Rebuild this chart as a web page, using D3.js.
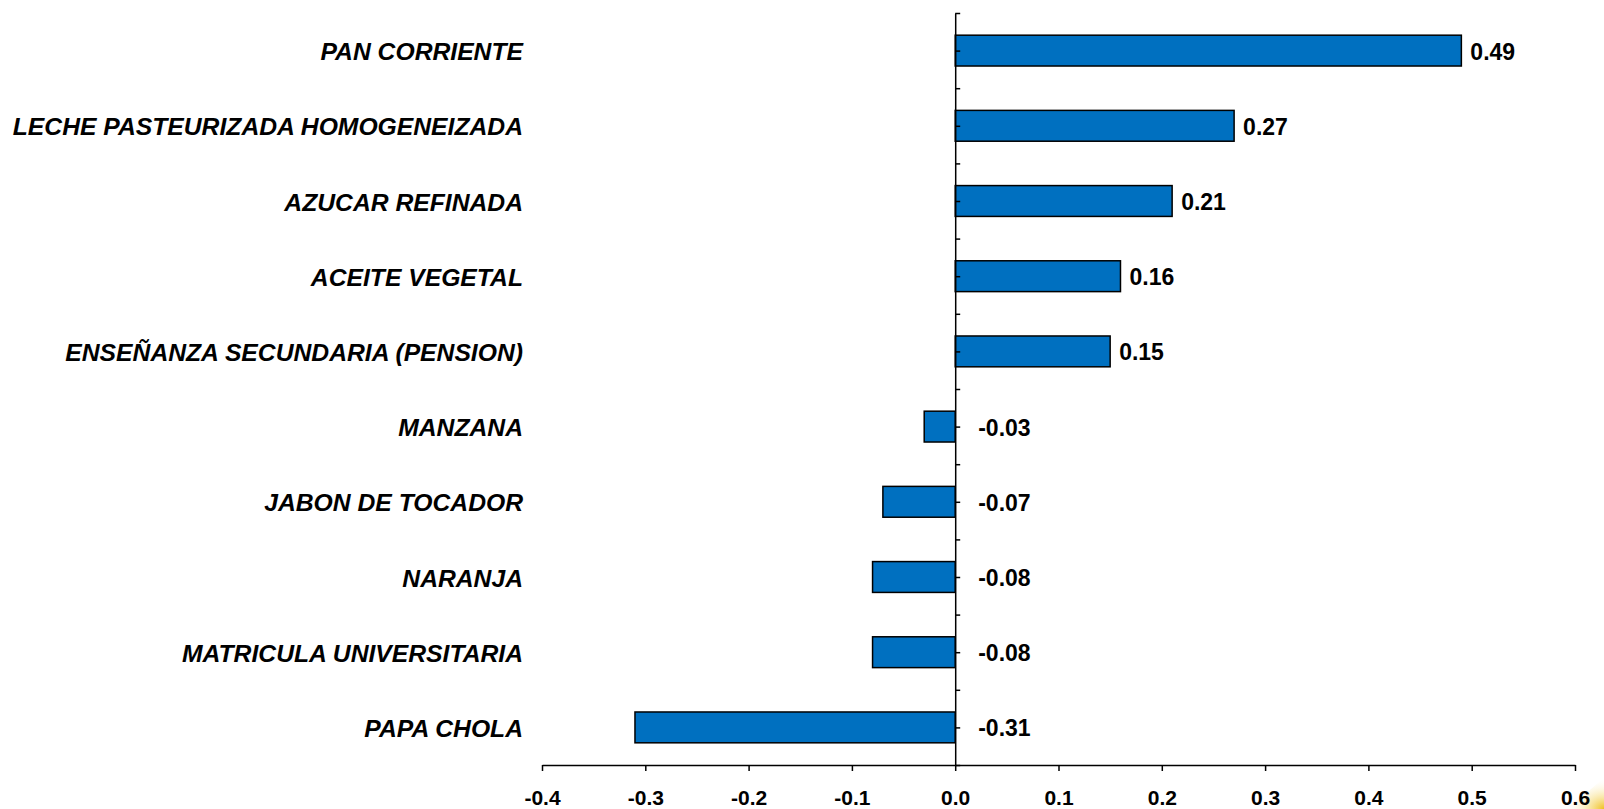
<!DOCTYPE html>
<html>
<head>
<meta charset="utf-8">
<script src="https://cdn.jsdelivr.net/npm/d3@7"></script>
<style>
  body { margin: 0; background: #fff; }
  svg { display: block; }
  text { font-family: "Liberation Sans", Arial, sans-serif; font-weight: bold; fill: #000; }
</style>
</head>
<body>
<svg width="1604" height="809"></svg>
<script>
'use strict';

// categories, top to bottom
var products = [
  'PAN CORRIENTE',
  'LECHE PASTEURIZADA HOMOGENEIZADA',
  'AZUCAR REFINADA',
  'ACEITE VEGETAL',
  'ENSEÑANZA SECUNDARIA (PENSION)',
  'MANZANA',
  'JABON DE TOCADOR',
  'NARANJA',
  'MATRICULA UNIVERSITARIA',
  'PAPA CHOLA'
];
var values = [0.49, 0.27, 0.21, 0.16, 0.15, -0.03, -0.07, -0.08, -0.08, -0.31];
var xTicks = [-0.4, -0.3, -0.2, -0.1, 0.0, 0.1, 0.2, 0.3, 0.4, 0.5, 0.6];

var svg = d3.select('svg');

var margin = {top: 13, right: 29, bottom: 44, left: 542};
var width = 1604 - margin.left - margin.right;
var height = 809 - margin.top - margin.bottom;

var x = d3.scaleLinear().domain([-0.4, 0.6]).range([0, width]);
var y = d3.scaleBand().domain(products).range([0, height]).paddingInner(0.59).paddingOuter(0.295);

// plain hyphen for negatives, like the original
function fmt(p) {
  var f = d3.format(p);
  return function(d) { return f(d).replace('\u2212', '-'); };
}

var group = svg.append('g')
  .attr('transform', 'translate(' + margin.left + ',' + margin.top + ')');

var data = products.map(function(p, i) { return {name: p, value: values[i]}; });

// bars
group.selectAll('.bar')
  .data(data)
  .enter()
  .append('rect')
  .attr('class', 'bar')
  .attr('x', function(d) { return x(Math.min(0, d.value)); })
  .attr('y', function(d) { return y(d.name); })
  .attr('width', function(d) { return Math.abs(x(d.value) - x(0)); })
  .attr('height', y.bandwidth())
  .style('fill', '#0070c0')
  .style('stroke', '#000')
  .style('stroke-width', 1.5);

// x axis
var xAxis = group.append('g')
  .attr('transform', 'translate(0,' + height + ')')
  .call(d3.axisBottom(x).tickValues(xTicks).tickFormat(fmt('.1f')).tickSize(6).tickSizeOuter(0));
xAxis.select('.domain').style('stroke', '#000').style('stroke-width', 1.5);
xAxis.selectAll('.tick line').style('stroke', '#000').style('stroke-width', 1.5);
xAxis.selectAll('.tick text')
  .attr('y', 25)
  .attr('dy', '0.71em')
  .style('font-size', '21px')
  .style('font-family', '"Liberation Sans", Arial, sans-serif');

// vertical axis at zero, ticks every half category
var half = d3.scaleLinear().domain([0, products.length * 2]).range([0, height]);
var yAxis = group.append('g')
  .attr('transform', 'translate(' + x(0) + ',0)')
  .call(d3.axisRight(half).ticks(products.length * 2).tickSize(5).tickSizeOuter(0).tickFormat(''));
yAxis.select('.domain').style('stroke', '#000').style('stroke-width', 1.5);
yAxis.selectAll('.tick line').style('stroke', '#000').style('stroke-width', 1.5);

// category labels
group.selectAll('.label')
  .data(data)
  .enter()
  .append('text')
  .attr('class', 'label')
  .attr('x', -19)
  .attr('y', function(d) { return y(d.name) + y.bandwidth() / 2 + 1; })
  .attr('dy', '0.35em')
  .attr('text-anchor', 'end')
  .style('font-size', '24.7px')
  .style('font-style', 'italic')
  .text(function(d) { return d.name; });

// value labels
group.selectAll('.value')
  .data(data)
  .enter()
  .append('text')
  .attr('class', 'value')
  .attr('x', function(d) { return d.value >= 0 ? x(d.value) + 9 : x(0) + 23; })
  .attr('y', function(d) { return y(d.name) + y.bandwidth() / 2 + 1; })
  .attr('dy', '0.35em')
  .style('font-size', '23px')
  .text(function(d) { return fmt('.2f')(d.value); });

// faint yellow slide decoration, bottom right
var defs = svg.append('defs');
var grad = defs.append('radialGradient').attr('id', 'glow').attr('cx', '100%').attr('cy', '100%').attr('r', '100%');
grad.append('stop').attr('offset', '0%').attr('stop-color', '#f0c020');
grad.append('stop').attr('offset', '50%').attr('stop-color', '#f7e08a').attr('stop-opacity', 0.5);
grad.append('stop').attr('offset', '100%').attr('stop-color', '#fff').attr('stop-opacity', 0);
svg.insert('path', ':first-child')
  .attr('d', 'M1565,809 Q1585,795 1604,778 L1604,809 Z')
  .style('fill', 'url(#glow)');
</script>
</body>
</html>
